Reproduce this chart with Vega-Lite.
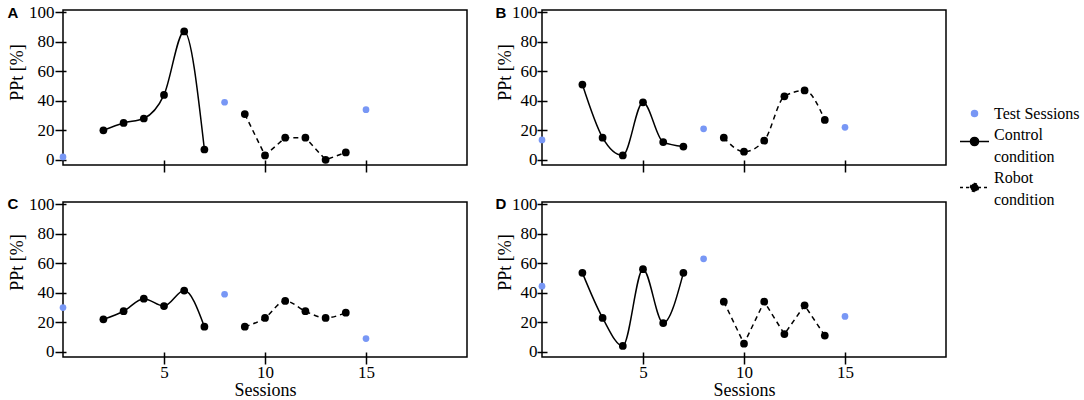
{
  "$schema": "https://vega.github.io/schema/vega-lite/v6.json",
  "padding": {"left": 6, "top": 2, "right": 0, "bottom": 0},
  "background": "white",
  "datasets": {
    "ppt": [
      {"panel": "A", "series": "Test Sessions", "session": 0, "ppt": 2},
      {"panel": "A", "series": "Test Sessions", "session": 8, "ppt": 39},
      {"panel": "A", "series": "Test Sessions", "session": 15, "ppt": 34},
      {"panel": "A", "series": "Control condition", "session": 2, "ppt": 20},
      {"panel": "A", "series": "Control condition", "session": 3, "ppt": 25},
      {"panel": "A", "series": "Control condition", "session": 4, "ppt": 28},
      {"panel": "A", "series": "Control condition", "session": 5, "ppt": 44},
      {"panel": "A", "series": "Control condition", "session": 6, "ppt": 87},
      {"panel": "A", "series": "Control condition", "session": 7, "ppt": 7},
      {"panel": "A", "series": "Robot condition", "session": 9, "ppt": 31},
      {"panel": "A", "series": "Robot condition", "session": 10, "ppt": 3},
      {"panel": "A", "series": "Robot condition", "session": 11, "ppt": 15},
      {"panel": "A", "series": "Robot condition", "session": 12, "ppt": 15},
      {"panel": "A", "series": "Robot condition", "session": 13, "ppt": 0},
      {"panel": "A", "series": "Robot condition", "session": 14, "ppt": 5},
      {"panel": "B", "series": "Test Sessions", "session": 0, "ppt": 13.5},
      {"panel": "B", "series": "Test Sessions", "session": 8, "ppt": 21},
      {"panel": "B", "series": "Test Sessions", "session": 15, "ppt": 22},
      {"panel": "B", "series": "Control condition", "session": 2, "ppt": 51},
      {"panel": "B", "series": "Control condition", "session": 3, "ppt": 15},
      {"panel": "B", "series": "Control condition", "session": 4, "ppt": 3},
      {"panel": "B", "series": "Control condition", "session": 5, "ppt": 39},
      {"panel": "B", "series": "Control condition", "session": 6, "ppt": 12},
      {"panel": "B", "series": "Control condition", "session": 7, "ppt": 9},
      {"panel": "B", "series": "Robot condition", "session": 9, "ppt": 15},
      {"panel": "B", "series": "Robot condition", "session": 10, "ppt": 5.5},
      {"panel": "B", "series": "Robot condition", "session": 11, "ppt": 13},
      {"panel": "B", "series": "Robot condition", "session": 12, "ppt": 43},
      {"panel": "B", "series": "Robot condition", "session": 13, "ppt": 47},
      {"panel": "B", "series": "Robot condition", "session": 14, "ppt": 27},
      {"panel": "C", "series": "Test Sessions", "session": 0, "ppt": 30},
      {"panel": "C", "series": "Test Sessions", "session": 8, "ppt": 39},
      {"panel": "C", "series": "Test Sessions", "session": 15, "ppt": 9},
      {"panel": "C", "series": "Control condition", "session": 2, "ppt": 22},
      {"panel": "C", "series": "Control condition", "session": 3, "ppt": 27.5},
      {"panel": "C", "series": "Control condition", "session": 4, "ppt": 36},
      {"panel": "C", "series": "Control condition", "session": 5, "ppt": 31},
      {"panel": "C", "series": "Control condition", "session": 6, "ppt": 41.5},
      {"panel": "C", "series": "Control condition", "session": 7, "ppt": 17},
      {"panel": "C", "series": "Robot condition", "session": 9, "ppt": 17},
      {"panel": "C", "series": "Robot condition", "session": 10, "ppt": 23},
      {"panel": "C", "series": "Robot condition", "session": 11, "ppt": 34.5},
      {"panel": "C", "series": "Robot condition", "session": 12, "ppt": 27.5},
      {"panel": "C", "series": "Robot condition", "session": 13, "ppt": 23},
      {"panel": "C", "series": "Robot condition", "session": 14, "ppt": 26.5},
      {"panel": "D", "series": "Test Sessions", "session": 0, "ppt": 44.5},
      {"panel": "D", "series": "Test Sessions", "session": 8, "ppt": 63},
      {"panel": "D", "series": "Test Sessions", "session": 15, "ppt": 24},
      {"panel": "D", "series": "Control condition", "session": 2, "ppt": 53.5},
      {"panel": "D", "series": "Control condition", "session": 3, "ppt": 23},
      {"panel": "D", "series": "Control condition", "session": 4, "ppt": 4},
      {"panel": "D", "series": "Control condition", "session": 5, "ppt": 56},
      {"panel": "D", "series": "Control condition", "session": 6, "ppt": 19.5},
      {"panel": "D", "series": "Control condition", "session": 7, "ppt": 53.5},
      {"panel": "D", "series": "Robot condition", "session": 9, "ppt": 34},
      {"panel": "D", "series": "Robot condition", "session": 10, "ppt": 5.5},
      {"panel": "D", "series": "Robot condition", "session": 11, "ppt": 34},
      {"panel": "D", "series": "Robot condition", "session": 12, "ppt": 12},
      {"panel": "D", "series": "Robot condition", "session": 13, "ppt": 31.5},
      {"panel": "D", "series": "Robot condition", "session": 14, "ppt": 11}
    ]
  },
  "config": {
    "font": "Liberation Serif",
    "view": {"stroke": "black", "strokeWidth": 1.5},
    "axis": {
      "labelFont": "Liberation Serif", "labelFontSize": 17, "labelColor": "black",
      "titleFont": "Liberation Serif", "titleFontSize": 18, "titleFontWeight": "normal", "titleColor": "black",
      "tickColor": "black", "tickWidth": 1.5, "domain": false, "grid": false
    },
    "legend": {"labelFont": "Liberation Serif", "labelFontSize": 16, "labelColor": "black"}
  },
  "columns": 2,
  "bounds": "flush",
  "spacing": {"row": 37, "column": 75},
  "concat": [
    {
      "width": 404, "height": 155,
      "data": {"name": "ppt"},
      "transform": [{"filter": "datum.panel == 'A'"}],
      "resolve": {"axis": {"x": "independent"}},
      "encoding": {
        "y": {"field": "ppt", "type": "quantitative", "scale": {"domain": [-3.5, 101.5], "nice": false},
          "axis": {"values": [0, 20, 40, 60, 80, 100], "offset": -3, "tickSize": 11, "labelPadding": 1, "title": "PPt [%]", "titleX": -40, "titleY": 62,
            "encode": {"ticks": {"update": {"opacity": {"signal": "datum.value == 0 || datum.value == 100 ? 0 : 1"}}}}}}
      },
      "layer": [
        {"transform": [{"filter": "datum.series == 'Control condition'"}],
          "encoding": {"x": {"field": "session", "type": "quantitative", "scale": {"domain": [0, 20], "nice": false},
            "axis": {"values": [5, 10, 15], "offset": -5, "tickSize": 12, "labels": false, "title": null}}},
          "mark": {"type": "line", "interpolate": "monotone", "color": "black", "strokeWidth": 1.5, "point": {"filled": true, "size": 60, "color": "black", "opacity": 1}}},
        {"transform": [{"filter": "datum.series == 'Robot condition'"}],
          "encoding": {"x": {"field": "session", "type": "quantitative", "axis": null}},
          "mark": {"type": "line", "interpolate": "linear", "color": "black", "strokeWidth": 1.5, "strokeDash": [5, 4], "point": {"filled": true, "size": 60, "color": "black", "opacity": 1}}},
        {"transform": [{"filter": "datum.series == 'Test Sessions'"}],
          "encoding": {"x": {"field": "session", "type": "quantitative",
            "axis": {"orient": "top", "labels": false, "ticks": false, "title": "A", "titleFont": "Liberation Sans", "titleFontWeight": "bold", "titleFontSize": 15, "titleAngle": 0, "titleAlign": "left", "titleBaseline": "alphabetic", "titleX": -56, "titleY": 7}}},
          "mark": {"type": "circle", "size": 45, "color": "#7897f5", "opacity": 1}}
      ]
    },
    {
      "width": 404, "height": 155,
      "data": {"name": "ppt"},
      "transform": [{"filter": "datum.panel == 'B'"}],
      "resolve": {"axis": {"x": "independent"}},
      "encoding": {
        "y": {"field": "ppt", "type": "quantitative", "scale": {"domain": [-3.5, 101.5], "nice": false},
          "axis": {"values": [0, 20, 40, 60, 80, 100], "offset": -5, "tickSize": 10, "labelPadding": 0, "title": "PPt [%]", "titleX": -33, "titleY": 62,
            "encode": {"ticks": {"update": {"opacity": {"signal": "datum.value == 0 || datum.value == 100 ? 0 : 1"}}}}}},
        "color": {"field": "series", "type": "nominal",
          "scale": {"domain": ["Test Sessions", "Control condition", "Robot condition"], "range": ["#7897f5", "black", "black"]},
          "legend": {
            "title": null, "orient": "none", "legendX": 896, "legendY": 88, "padding": 0,
            "symbolSize": 841, "symbolStrokeWidth": 1.5,
            "labelFont": "Liberation Serif", "labelFontSize": 16, "labelColor": "black", "labelOffset": 4, "labelLimit": 200, "rowPadding": 4,
            "labelExpr": "datum.label == 'Control condition' ? ['Control', 'condition'] : datum.label == 'Robot condition' ? ['Robot', 'condition'] : datum.label",
            "encode": {
              "labels": {"update": {"font": {"value": "Liberation Serif"}, "lineHeight": {"value": 22}, "dy": {"signal": "datum.value == 'Test Sessions' ? 0 : datum.value == 'Robot condition' ? -10 : -7"}}},
              "symbols": {"update": {
                "shape": {"signal": "datum.value == 'Test Sessions' ? 'circle' : 'M-1,0L1,0M0.28,0A0.28,0.28,0,1,1,-0.28,0A0.28,0.28,0,1,1,0.28,0Z'"},
                "size": {"signal": "datum.value == 'Test Sessions' ? 36 : 841"},
                "fill": {"signal": "datum.value == 'Test Sessions' ? '#7897f5' : 'black'"},
                "stroke": {"signal": "datum.value == 'Test Sessions' ? '#7897f5' : 'black'"},
                "strokeWidth": {"value": 1.5},
                "strokeDash": {"signal": "datum.value == 'Robot condition' ? [3, 3] : []"},
                "opacity": {"value": 1}
              }}
            }
          }}
      },
      "layer": [
        {"transform": [{"filter": "datum.series == 'Control condition'"}],
          "encoding": {"x": {"field": "session", "type": "quantitative", "scale": {"domain": [0, 20], "nice": false},
            "axis": {"values": [5, 10, 15], "offset": -5, "tickSize": 12, "labels": false, "title": null}}},
          "mark": {"type": "line", "interpolate": "monotone", "strokeWidth": 1.5, "point": {"filled": true, "size": 60, "opacity": 1}}},
        {"transform": [{"filter": "datum.series == 'Robot condition'"}],
          "encoding": {"x": {"field": "session", "type": "quantitative", "axis": null}},
          "mark": {"type": "line", "interpolate": "monotone", "strokeWidth": 1.5, "strokeDash": [5, 4], "point": {"filled": true, "size": 60, "opacity": 1}}},
        {"transform": [{"filter": "datum.series == 'Test Sessions'"}],
          "encoding": {"x": {"field": "session", "type": "quantitative",
            "axis": {"orient": "top", "labels": false, "ticks": false, "title": "B", "titleFont": "Liberation Sans", "titleFontWeight": "bold", "titleFontSize": 15, "titleAngle": 0, "titleAlign": "left", "titleBaseline": "alphabetic", "titleX": -47, "titleY": 7}}},
          "mark": {"type": "circle", "size": 45, "opacity": 1}}
      ]
    },
    {
      "width": 404, "height": 155,
      "data": {"name": "ppt"},
      "transform": [{"filter": "datum.panel == 'C'"}],
      "resolve": {"axis": {"x": "independent"}},
      "encoding": {
        "y": {"field": "ppt", "type": "quantitative", "scale": {"domain": [-3.5, 101.5], "nice": false},
          "axis": {"values": [0, 20, 40, 60, 80, 100], "offset": -3, "tickSize": 11, "labelPadding": 1, "title": "PPt [%]", "titleX": -40, "titleY": 60,
            "encode": {"ticks": {"update": {"opacity": {"signal": "datum.value == 0 || datum.value == 100 ? 0 : 1"}}}}}}
      },
      "layer": [
        {"transform": [{"filter": "datum.series == 'Control condition'"}],
          "encoding": {"x": {"field": "session", "type": "quantitative", "scale": {"domain": [0, 20], "nice": false},
            "axis": {"values": [5, 10, 15], "offset": -5, "tickSize": 12, "labelPadding": 0, "title": "Sessions", "titlePadding": 1}}},
          "mark": {"type": "line", "interpolate": "monotone", "color": "black", "strokeWidth": 1.5, "point": {"filled": true, "size": 60, "color": "black", "opacity": 1}}},
        {"transform": [{"filter": "datum.series == 'Robot condition'"}],
          "encoding": {"x": {"field": "session", "type": "quantitative", "axis": null}},
          "mark": {"type": "line", "interpolate": "monotone", "color": "black", "strokeWidth": 1.5, "strokeDash": [5, 4], "point": {"filled": true, "size": 60, "color": "black", "opacity": 1}}},
        {"transform": [{"filter": "datum.series == 'Test Sessions'"}],
          "encoding": {"x": {"field": "session", "type": "quantitative",
            "axis": {"orient": "top", "labels": false, "ticks": false, "title": "C", "titleFont": "Liberation Sans", "titleFontWeight": "bold", "titleFontSize": 15, "titleAngle": 0, "titleAlign": "left", "titleBaseline": "alphabetic", "titleX": -56, "titleY": 6}}},
          "mark": {"type": "circle", "size": 45, "color": "#7897f5", "opacity": 1}}
      ]
    },
    {
      "width": 404, "height": 155,
      "data": {"name": "ppt"},
      "transform": [{"filter": "datum.panel == 'D'"}],
      "resolve": {"axis": {"x": "independent"}},
      "encoding": {
        "y": {"field": "ppt", "type": "quantitative", "scale": {"domain": [-3.5, 101.5], "nice": false},
          "axis": {"values": [0, 20, 40, 60, 80, 100], "offset": -5, "tickSize": 10, "labelPadding": 0, "title": "PPt [%]", "titleX": -33, "titleY": 60,
            "encode": {"ticks": {"update": {"opacity": {"signal": "datum.value == 0 || datum.value == 100 ? 0 : 1"}}}}}}
      },
      "layer": [
        {"transform": [{"filter": "datum.series == 'Control condition'"}],
          "encoding": {"x": {"field": "session", "type": "quantitative", "scale": {"domain": [0, 20], "nice": false},
            "axis": {"values": [5, 10, 15], "offset": -5, "tickSize": 12, "labelPadding": 0, "title": "Sessions", "titlePadding": 1}}},
          "mark": {"type": "line", "interpolate": "monotone", "color": "black", "strokeWidth": 1.5, "point": {"filled": true, "size": 60, "color": "black", "opacity": 1}}},
        {"transform": [{"filter": "datum.series == 'Robot condition'"}],
          "encoding": {"x": {"field": "session", "type": "quantitative", "axis": null}},
          "mark": {"type": "line", "interpolate": "linear", "color": "black", "strokeWidth": 1.5, "strokeDash": [5, 4], "point": {"filled": true, "size": 60, "color": "black", "opacity": 1}}},
        {"transform": [{"filter": "datum.series == 'Test Sessions'"}],
          "encoding": {"x": {"field": "session", "type": "quantitative",
            "axis": {"orient": "top", "labels": false, "ticks": false, "title": "D", "titleFont": "Liberation Sans", "titleFontWeight": "bold", "titleFontSize": 15, "titleAngle": 0, "titleAlign": "left", "titleBaseline": "alphabetic", "titleX": -47, "titleY": 6}}},
          "mark": {"type": "circle", "size": 45, "color": "#7897f5", "opacity": 1}}
      ]
    }
  ]
}
